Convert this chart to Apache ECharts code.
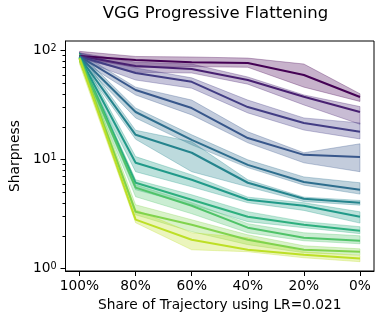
<!DOCTYPE html>
<html>
<head>
<meta charset="utf-8">
<script src="https://cdn.jsdelivr.net/npm/echarts@6/dist/echarts.min.js"></script>
<style>
  html, body { margin: 0; padding: 0; background: #fff; }
  #chart { width: 384px; height: 324px; }
</style>
</head>
<body>
<div id="chart"></div>
<script>
// share of trajectory trained with LR=0.021 (x), one curve per run
const shares = [100, 80, 60, 40, 20, 0];
const xTickValues = [100, 80, 60, 40, 20, 0];
const yTickValues = [1, 10, 100];
const yMinorTickValues = [2, 3, 4, 5, 6, 7, 8, 9, 20, 30, 40, 50, 60, 70, 80, 90];

// viridis samples, dark purple -> yellow-green
const colors = [
  "#440154", "#482071", "#423d84", "#38578b", "#2e6e8e", "#25848d",
  "#219a89", "#2daf7e", "#50c369", "#80d34d", "#bddf26",
];

const meanCurves = [
  [89, 81.5, 78, 76.5, 59.5, 37.4],
  [89, 72, 67.5, 53.5, 37.5, 27.2],
  [88, 62, 51.5, 30.2, 21.6, 17.9],
  [88, 43.3, 29.6, 15.7, 11.0, 10.5],
  [88, 27.2, 15.1, 8.9, 6.2, 5.26],
  [87, 16.8, 11.5, 6.1, 4.35, 4.0],
  [87, 9.3, 6.5, 4.26, 3.75, 2.97],
  [86, 6.1, 4.26, 2.97, 2.51, 2.21],
  [86, 5.5, 3.75, 2.36, 1.91, 1.79],
  [85, 3.3, 2.51, 1.83, 1.48, 1.42],
  [84, 2.8, 1.83, 1.48, 1.33, 1.23],
];
const lowerCurves = [
  [85, 70, 71, 70, 46, 34],
  [84, 63, 62, 49, 31.6, 21],
  [82, 53.5, 45, 26.7, 18.6, 15.4],
  [82, 39, 25.6, 14.2, 9.3, 7.7],
  [82, 24, 13.6, 8.4, 5.8, 4.8],
  [80, 15.3, 7.7, 5.6, 4.1, 3.8],
  [80, 7.7, 5.6, 4.0, 3.4, 2.6],
  [80, 5.26, 3.83, 2.68, 2.36, 2.08],
  [79, 4.54, 3.17, 2.12, 1.79, 1.68],
  [78, 3.1, 2.17, 1.65, 1.39, 1.33],
  [75, 2.62, 1.48, 1.42, 1.25, 1.15],
];
const upperCurves = [
  [98, 88, 87, 85, 75, 40],
  [95, 78, 75, 57, 39, 30.5],
  [95, 69, 56, 35, 24, 21.6],
  [95, 46, 35, 17.9, 11.5, 13.9],
  [95, 29.6, 16.8, 9.9, 6.9, 6.1],
  [95, 18.5, 14.5, 6.5, 4.5, 4.2],
  [94, 10.6, 7.2, 4.5, 4.0, 3.3],
  [93, 6.5, 4.73, 3.31, 2.68, 2.41],
  [92, 5.84, 4.0, 2.57, 2.12, 1.99],
  [92, 3.83, 2.79, 2.03, 1.61, 1.51],
  [90, 3.45, 2.12, 1.91, 1.42, 1.31],
];

const FONT = "DejaVu Sans";
const X_MIN = -5;
const X_MAX = 105;

function withAlpha(hex, a) {
  const n = parseInt(hex.slice(1), 16);
  return `rgba(${(n >> 16) & 255},${(n >> 8) & 255},${n & 255},${a})`;
}

function band(k) {
  return {
    type: "custom",
    silent: true,
    clip: false,
    data: shares.map((s, i) => [s, lowerCurves[k][i], upperCurves[k][i]]),
    encode: { x: 0, y: [1, 2] },
    renderItem(params, api) {
      if (params.dataIndex !== 0) return;
      const top = shares.map((s, i) => api.coord([s, upperCurves[k][i]]));
      const bottom = shares.map((s, i) => api.coord([s, lowerCurves[k][i]])).reverse();
      return {
        type: "polygon",
        shape: { points: top.concat(bottom) },
        style: { fill: withAlpha(colors[k], 0.3), stroke: withAlpha(colors[k], 0.3), lineWidth: 1 },
      };
    },
  };
}

function line(k) {
  return {
    type: "line",
    silent: true,
    showSymbol: false,
    data: shares.map((s, i) => [s, meanCurves[k][i]]),
    lineStyle: { width: 2, color: colors[k] },
    itemStyle: { color: colors[k] },
  };
}

// log-axis minor ticks (2..9 per decade), placed through the y scale
const minorTicks = {
  type: "custom",
  silent: true,
  clip: false,
  data: yMinorTickValues.map((v) => [X_MAX, v]),
  encode: { x: 0, y: 1 },
  renderItem(params, api) {
    const p = api.coord([X_MAX, api.value(1)]);
    const y = Math.round(p[1]) + 0.5;
    return {
      type: "line",
      shape: { x1: p[0] - 3, y1: y, x2: p[0], y2: y },
      style: { stroke: "#000", lineWidth: 1 },
    };
  },
};

const series = [];
colors.forEach((c, k) => {
  series.push(band(k), line(k));
});
series.push(minorTicks);

const chart = echarts.init(document.getElementById("chart"), null, { renderer: "canvas" });
chart.setOption({
  animation: false,
  backgroundColor: "#fff",
  title: {
    text: "VGG Progressive Flattening",
    left: 215.5,
    top: 5,
    textAlign: "center",
    padding: 0,
    textStyle: { fontFamily: FONT, fontSize: 16.5, fontWeight: "normal", color: "#000" },
  },
  grid: {
    left: 65, top: 41, width: 309, height: 230,
    show: true, borderColor: "#000", borderWidth: 1, backgroundColor: "transparent",
  },
  xAxis: {
    type: "value",
    min: X_MIN,
    max: X_MAX,
    inverse: true,
    name: "Share of Trajectory using LR=0.021",
    nameLocation: "middle",
    nameGap: 27,
    nameTextStyle: { fontFamily: FONT, fontSize: 13.75, color: "#000" },
    axisLine: { show: true, onZero: false, lineStyle: { color: "#000", width: 1 } },
    axisTick: { show: true, length: 5, customValues: xTickValues, lineStyle: { color: "#000" } },
    axisLabel: {
      customValues: xTickValues,
      margin: 8,
      fontFamily: FONT, fontSize: 13.75, color: "#000",
      formatter: (v) => v + "%",
    },
    splitLine: { show: false },
  },
  yAxis: {
    type: "log",
    logBase: 10,
    min: 0.945,
    max: 122,
    position: "left",
    name: "Sharpness",
    nameLocation: "middle",
    nameGap: 40,
    nameTextStyle: { fontFamily: FONT, fontSize: 13.75, color: "#000" },
    axisLine: { show: true, onZero: false, lineStyle: { color: "#000", width: 1 } },
    axisTick: { show: true, length: 5, customValues: yTickValues, lineStyle: { color: "#000" } },
    axisLabel: {
      customValues: yTickValues,
      margin: 9,
      formatter: (v) => "{b|10}{s|" + Math.round(Math.log10(v)) + "}",
      rich: {
        b: { fontFamily: FONT, fontSize: 13.75, color: "#000" },
        s: { fontFamily: FONT, fontSize: 9.6, color: "#000", verticalAlign: "top" },
      },
    },
    splitLine: { show: false },
  },
  series,
});
</script>
</body>
</html>
